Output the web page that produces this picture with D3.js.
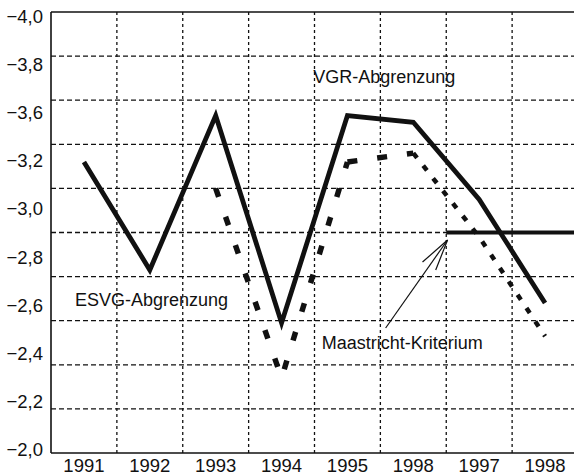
<!DOCTYPE html>
<html><head><meta charset="utf-8">
<script src="https://cdn.jsdelivr.net/npm/d3@7"></script>
<style>html,body{margin:0;padding:0;background:#fff;overflow:hidden}</style>
</head><body>
<svg id="c" width="574" height="476"></svg>
<script>
// ---- data ----
const years = ["1991","1992","1993","1994","1995","1998","1997","1998"];
const yTickLabels = ["\u22124,0","\u22123,8","\u22123,6","\u22123,2","\u22123,0","\u22122,8","\u22122,6","\u22122,4","\u22122,2","\u22122,0"];
const gridValues = [-4.0,-3.8,-3.6,-3.4,-3.2,-3.0,-2.8,-2.6,-2.4,-2.2,-2.0];
const solidValues  = [-3.32,-2.83,-3.53,-2.59,-3.53,-3.50,-3.15,-2.68];
const dashedValues = [null,null,-3.20,-2.34,-3.32,-3.36,-2.98,-2.53];
const criterionValue = -3.0;
const criterionFrom = 6;       // band index where the criterion line starts
const labels = [
  {text:"VGR-Abgrenzung", i:3.98, v:-3.678},
  {text:"ESVG-Abgrenzung", i:0.365, v:-2.667},
  {text:"Maastricht-Kriterium", i:4.11, v:-2.472}
];
const arrow = {tail:[5.08,-2.567], tip:[6.02,-2.966], heads:[[5.64,-2.866],[5.84,-2.83]]};

// ---- layout ----
const mLeft=51, mTop=12, mBottom=453, mRight=578;
const svg = d3.select("#c");
const font = "'Liberation Sans', Arial, Helvetica, sans-serif";
const ink = "#111";

const x = d3.scaleLinear().domain([0, years.length]).range([mLeft, mRight]);
const xb = d3.scaleBand().domain(d3.range(years.length)).range([mLeft, mRight]);
const y = d3.scaleLinear().domain([-4.0, -2.0]).range([mTop, mBottom]);
const yLab = d3.scalePoint().domain(d3.range(yTickLabels.length)).range([16, 449]);

// gridlines
svg.append("g").selectAll("line").data(gridValues.slice(1, -1)).join("line")
  .attr("x1", mLeft).attr("x2", 574).attr("y1", d=>y(d)).attr("y2", d=>y(d))
  .attr("stroke", ink).attr("stroke-width", 1.3).attr("stroke-dasharray", "5,3");
svg.append("g").selectAll("line").data(d3.range(1, years.length)).join("line")
  .attr("x1", d=>x(d)).attr("x2", d=>x(d)).attr("y1", mTop).attr("y2", mBottom)
  .attr("stroke", ink).attr("stroke-width", 1.3).attr("stroke-dasharray", "3,3");

// frame
svg.append("line").attr("x1", mLeft).attr("x2", 574).attr("y1", y(-4.0)).attr("y2", y(-4.0))
  .attr("stroke", ink).attr("stroke-width", 1.6);
svg.append("line").attr("x1", mLeft).attr("x2", 574).attr("y1", y(-2.0)).attr("y2", y(-2.0))
  .attr("stroke", ink).attr("stroke-width", 1.6);
svg.append("line").attr("x1", mLeft).attr("x2", mLeft).attr("y1", mTop).attr("y2", mBottom)
  .attr("stroke", ink).attr("stroke-width", 1.6);

// axes labels
const xAxis = svg.append("g").attr("transform", `translate(0,${mBottom})`)
  .call(d3.axisBottom(xb).tickSize(0).tickFormat(i=>years[i]));
xAxis.select(".domain").remove();
xAxis.selectAll("text").attr("y", 19).attr("dy", 0)
  .style("font-family", font).style("font-size", "18.5px").attr("fill", ink);

const yAxis = svg.append("g").attr("transform", `translate(${mLeft},0)`)
  .call(d3.axisLeft(yLab).tickSize(0).tickFormat(i=>yTickLabels[i]));
yAxis.select(".domain").remove();
yAxis.selectAll("text").attr("x", -8).attr("dy", "0.35em")
  .style("font-family", font).style("font-size", "18.5px").attr("fill", ink);

// series
const line = d3.line().defined(d=>d.v!=null).x(d=>x(d.i+0.5)).y(d=>y(d.v));
const solid = solidValues.map((v,i)=>({i,v}));
const dashed = dashedValues.map((v,i)=>({i,v}));

svg.append("path").datum(solid).attr("d", line)
  .attr("fill","none").attr("stroke", ink).attr("stroke-width", 4.8)
  .attr("stroke-linejoin","miter");

// dashed series drawn in pieces (print dash density varies)
const dashStyles = [
  {from:2, to:4, w:5.5, dash:"9,21"},
  {from:4, to:5, w:5.5, dash:"10,20"},
  {from:5, to:7, w:4.5, dash:"6,10"}
];
dashStyles.forEach(s=>{
  svg.append("path").datum(dashed.slice(s.from, s.to+1)).attr("d", line)
    .attr("fill","none").attr("stroke", ink).attr("stroke-width", s.w)
    .attr("stroke-dasharray", s.dash);
});

// criterion line
svg.append("line").attr("x1", x(criterionFrom)).attr("x2", 574)
  .attr("y1", y(criterionValue)).attr("y2", y(criterionValue))
  .attr("stroke", ink).attr("stroke-width", 4);

// arrow
const P = p=>[x(p[0]), y(p[1])];
svg.append("line").attr("x1", P(arrow.tail)[0]).attr("y1", P(arrow.tail)[1])
  .attr("x2", P(arrow.tip)[0]).attr("y2", P(arrow.tip)[1]).attr("stroke", ink).attr("stroke-width", 1.2);
arrow.heads.forEach(h=>{
  svg.append("line").attr("x1", P(h)[0]).attr("y1", P(h)[1])
    .attr("x2", P(arrow.tip)[0]).attr("y2", P(arrow.tip)[1]).attr("stroke", ink).attr("stroke-width", 1.2);
});

// annotations
svg.append("g").selectAll("text").data(labels).join("text")
  .attr("x", d=>x(d.i)).attr("y", d=>y(d.v)).text(d=>d.text)
  .style("font-family", font).style("font-size", "18px").attr("fill", ink);
</script>
</body></html>
